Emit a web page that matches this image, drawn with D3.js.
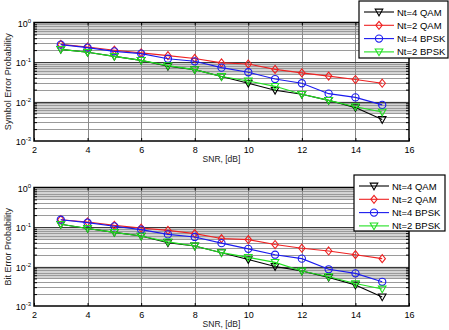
<!DOCTYPE html>
<html><head><meta charset="utf-8">
<script src="https://cdn.jsdelivr.net/npm/d3@7"></script>
<style>body{margin:0;background:#fff}svg{display:block;font-family:"Liberation Sans",Arial,sans-serif}</style>
</head><body><svg id="c" width="449" height="330"></svg>
<script>
const snr = [3,4,5,6,7,8,9,10,11,12,13,14,15];
const seriesNames = ["Nt=4 QAM","Nt=2 QAM","Nt=4 BPSK","Nt=2 BPSK"];
const seriesColors = ["#000000","#ee2222","#1a1aee","#22e022"];
const seriesMarkers = ["tri","diamond","circle","tri"];
// Symbol error probability
const serNt4QAM  = [0.209,0.176,0.139,0.110,0.078,0.064,0.043,0.029,0.0193,0.0152,0.0107,0.0070,0.0035];
const serNt2QAM  = [0.280,0.240,0.199,0.170,0.145,0.123,0.095,0.089,0.065,0.053,0.044,0.036,0.029];
const serNt4BPSK = [0.275,0.231,0.186,0.163,0.121,0.104,0.072,0.055,0.037,0.029,0.0158,0.0127,0.0082];
const serNt2BPSK = [0.209,0.176,0.139,0.110,0.081,0.064,0.043,0.033,0.0242,0.0152,0.0107,0.0074,0.0054];
// Bit error probability
const berNt4QAM  = [0.117,0.092,0.073,0.059,0.040,0.033,0.0224,0.0150,0.0100,0.0077,0.0053,0.0034,0.0017];
const berNt2QAM  = [0.153,0.134,0.110,0.094,0.082,0.068,0.051,0.048,0.036,0.029,0.0247,0.0199,0.0158];
const berNt4BPSK = [0.153,0.129,0.104,0.086,0.065,0.056,0.039,0.028,0.0199,0.0158,0.0085,0.0067,0.0041];
const berNt2BPSK = [0.117,0.092,0.073,0.059,0.042,0.033,0.0224,0.0170,0.0127,0.0077,0.0055,0.0037,0.0027];
const xTicks = [2,4,6,8,10,12,14,16];
const yDecades = [0,-1,-2,-3];

const svg = d3.select("#c");

function panel(cfg){
  const {top, bottom, left, right, ylabel, data, legend} = cfg;
  const g = svg.append("g");
  const x = d3.scaleLinear().domain([2,16]).range([left,right]);
  const y = d3.scaleLog().domain([1e-3,1]).range([bottom,top]);
  g.append("rect").attr("x",left).attr("y",top).attr("width",right-left).attr("height",bottom-top).attr("fill","#fff");
  // minor grid
  const minors = [];
  for (let e=-3;e<0;e++) for (let k=2;k<=9;k++) minors.push(k*Math.pow(10,e));
  // shade dense area
  for (let e=-3;e<0;e++){
    g.append("rect").attr("x",left).attr("width",right-left)
      .attr("y",y(Math.pow(10,e+1))).attr("height",y(0.5*Math.pow(10,e+1))-y(Math.pow(10,e+1)))
      .attr("fill","#d4d4d4");
  }
  g.selectAll(".mg").data(minors).join("line")
    .attr("x1",left).attr("x2",right).attr("y1",d=>Math.round(y(d))+0.5).attr("y2",d=>Math.round(y(d))+0.5)
    .attr("stroke","#9a9a9a").attr("stroke-width",1);
  // vertical grid
  g.selectAll(".vg").data(xTicks.slice(1,-1)).join("line")
    .attr("x1",d=>Math.round(x(d))+0.5).attr("x2",d=>Math.round(x(d))+0.5).attr("y1",top).attr("y2",bottom)
    .attr("stroke","#8a8a8a").attr("stroke-width",1);
  // major grid
  g.selectAll(".Mg").data(yDecades.slice(1,-1)).join("line")
    .attr("x1",left).attr("x2",right).attr("y1",d=>Math.round(y(Math.pow(10,d)))+0.5).attr("y2",d=>Math.round(y(Math.pow(10,d)))+0.5)
    .attr("stroke","#3a3a3a").attr("stroke-width",1.2);
  // axes ticks (inside)
  const axB = d3.axisBottom(x).tickValues(xTicks).tickSize(-3).tickPadding(6).tickFormat(d3.format("d"));
  const axT = d3.axisTop(x).tickValues(xTicks).tickSize(-3).tickFormat("");
  const ab = g.append("g").attr("transform",`translate(0,${bottom})`).call(axB);
  const at = g.append("g").attr("transform",`translate(0,${top})`).call(axT);
  [ab,at].forEach(a=>{a.select(".domain").remove(); a.selectAll("line").attr("stroke","#000");});
  ab.selectAll("text").attr("font-size","9px").attr("fill","#000").attr("font-family","Liberation Sans, Arial, sans-serif");
  const axL = d3.axisLeft(y).tickValues(minors).tickSize(-3).tickFormat("");
  const axR = d3.axisRight(y).tickValues(minors).tickSize(-3).tickFormat("");
  const al = g.append("g").attr("transform",`translate(${left},0)`).call(axL);
  const ar = g.append("g").attr("transform",`translate(${right},0)`).call(axR);
  [al,ar].forEach(a=>{a.select(".domain").remove(); a.selectAll("line").attr("stroke","#000");});
  // y tick labels
  yDecades.forEach(e=>{
    const t = g.append("text").attr("x",left-3).attr("y",y(Math.pow(10,e))+4)
      .attr("text-anchor","end").attr("font-size","9px").attr("fill","#000");
    t.append("tspan").text("10");
    t.append("tspan").attr("dy",-4).attr("font-size","6px").text(e===0?"0":"-"+(-e));
  });
  // frame
  g.append("rect").attr("x",left).attr("y",top).attr("width",right-left).attr("height",bottom-top)
    .attr("fill","none").attr("stroke","#000").attr("stroke-width",1.5);
  // labels
  g.append("text").attr("x",(left+right)/2).attr("y",bottom+20.5).attr("text-anchor","middle")
    .attr("font-size","8.5px").attr("fill","#222").text("SNR, [dB]");
  g.append("text").attr("transform",`translate(11,${(top+bottom)/2}) rotate(-90)`).attr("text-anchor","middle")
    .attr("font-size","9px").attr("fill","#222").text(ylabel);
  // series
  const line = d3.line().x((d,i)=>x(snr[i])).y(d=>y(d));
  data.forEach((vals,si)=>{
    const col = seriesColors[si];
    g.append("path").attr("d",line(vals)).attr("fill","none").attr("stroke",col).attr("stroke-width",1.1);
    vals.forEach((v,i)=>drawMarker(g, seriesMarkers[si], x(snr[i]), y(v), col));
  });
  // legend
  const L = legend;
  g.append("rect").attr("x",L.x).attr("y",L.y).attr("width",L.w).attr("height",L.h)
    .attr("fill","#fff").attr("stroke","#000").attr("stroke-width",1.2);
  seriesNames.forEach((n,i)=>{
    const yy = L.y + 11 + i*13.3;
    g.append("line").attr("x1",L.x+5).attr("x2",L.x+35).attr("y1",yy).attr("y2",yy).attr("stroke",seriesColors[i]).attr("stroke-width",1.1);
    drawMarker(g, seriesMarkers[i], L.x+20, yy, seriesColors[i]);
    g.append("text").attr("x",L.x+38).attr("y",yy+3.5).attr("font-size","9.5px").attr("fill","#000").text(n);
  });
}

function drawMarker(g, type, cx, cy, col){
  if (type==="circle"){
    g.append("circle").attr("cx",cx).attr("cy",cy).attr("r",3.6).attr("fill","none").attr("stroke",col).attr("stroke-width",1.1);
  } else if (type==="diamond"){
    const s=4;
    g.append("path").attr("d",`M${cx},${cy-s}L${cx+s*0.8},${cy}L${cx},${cy+s}L${cx-s*0.8},${cy}Z`)
      .attr("fill","none").attr("stroke",col).attr("stroke-width",1.1);
  } else {
    const s=3.8;
    g.append("path").attr("d",`M${cx-s},${cy-s*0.75}L${cx+s},${cy-s*0.75}L${cx},${cy+s}Z`)
      .attr("fill","none").attr("stroke",col).attr("stroke-width",1.1);
  }
}

panel({top:22.5,bottom:141,left:34,right:409,ylabel:"Symbol Error Probability",
  data:[serNt4QAM,serNt2QAM,serNt4BPSK,serNt2BPSK],
  legend:{x:359,y:1,w:89,h:57}});
panel({top:187.5,bottom:306,left:34,right:409,ylabel:"Bit Error Probability",
  data:[berNt4QAM,berNt2QAM,berNt4BPSK,berNt2BPSK],
  legend:{x:354,y:175,w:91,h:56}});
</script></body></html>
